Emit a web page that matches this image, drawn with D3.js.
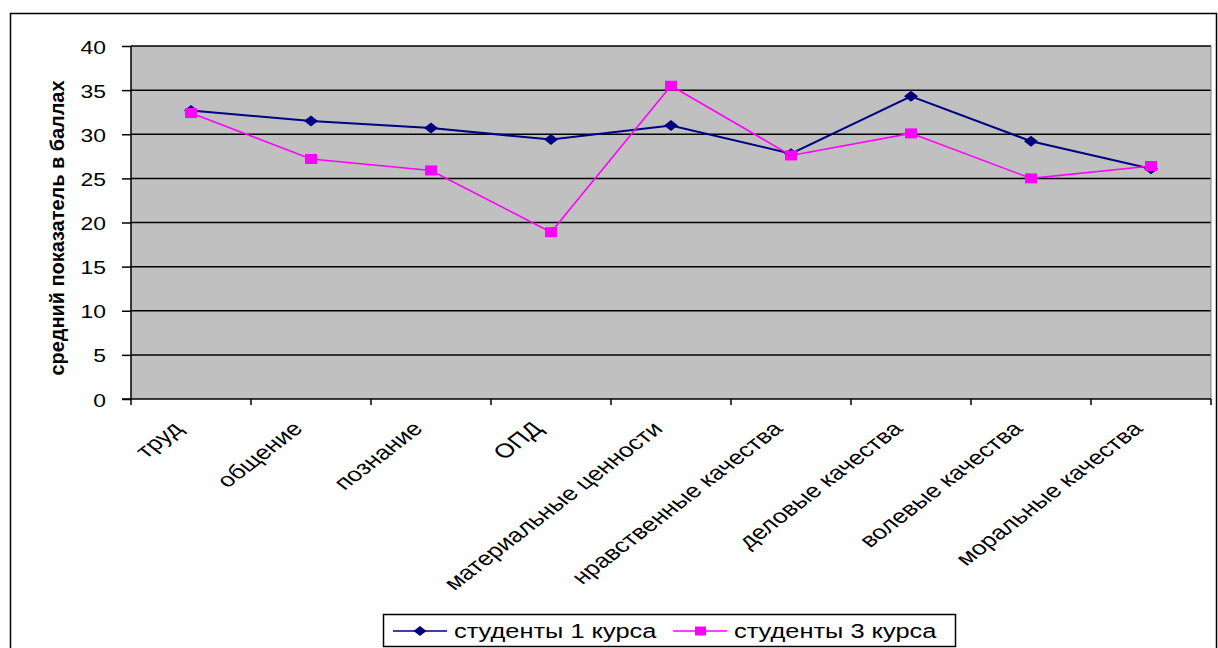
<!DOCTYPE html>
<html><head><meta charset="utf-8">
<script src="https://cdn.jsdelivr.net/npm/d3@7"></script>
<style>body{margin:0;background:#fff}svg{display:block}text{font-family:Arial,"Liberation Sans",sans-serif}</style>
</head><body><svg id="c" width="1218" height="648"></svg>
<script>
const categories = ["труд","общение","познание","ОПД","материальные ценности","нравственные качества","деловые качества","волевые качества","моральные качества"];
const series1 = [32.7, 31.5, 30.7, 29.4, 31.0, 27.8, 34.3, 29.2, 26.1];
const series2 = [32.4, 27.2, 25.9, 18.9, 35.5, 27.6, 30.1, 25.0, 26.4];
const seriesNames = ["студенты 1 курса", "студенты 3 курса"];
const yTicks = [0,5,10,15,20,25,30,35,40];
const yTitle = "средний показатель в баллах";

const S = 1.27; // horizontal stretch of the original picture
const SX = 1.3;
const svg = d3.select("#c");
const L = 131, R = 1211, T = 46, B = 399;
svg.append("rect").attr("x",10.5).attr("y",13.5).attr("width",1206).attr("height",660).attr("fill","#fff").attr("stroke","#000").attr("stroke-width",1.5);

const x = d3.scaleBand().domain(categories).range([L,R]);
const y = d3.scaleLinear().domain([0,40]).range([B,T]);

svg.append("rect").attr("x",L).attr("y",T).attr("width",R-L).attr("height",B-T).attr("fill","#C0C0C0");
svg.append("g").selectAll("line").data(yTicks.filter(d=>d>0)).join("line")
  .attr("x1",L).attr("x2",R).attr("y1",d=>y(d)).attr("y2",d=>y(d)).attr("stroke","#000").attr("stroke-width",1.5);
svg.append("line").attr("x1",R).attr("x2",R).attr("y1",T).attr("y2",B).attr("stroke","#808080").attr("stroke-width",1);

// y axis
const ya = svg.append("g").attr("transform",`translate(${L},0)`).call(d3.axisLeft(y).tickValues(yTicks).tickSize(9).tickFormat(""));
ya.select(".domain").attr("stroke","#000").attr("stroke-width",1.5).attr("d",`M0,${T}V${B}`);
ya.selectAll(".tick line").attr("stroke","#000").attr("stroke-width",1.5);
ya.selectAll(".tick").append("text").attr("transform",`translate(-25,7) scale(${S},1)`)
  .attr("x",0).attr("y",0).attr("dy",null).attr("text-anchor","end").attr("font-size",18).attr("fill","#000")
  .attr("font-family","Arial,'Liberation Sans',sans-serif").text(d=>d);

// x axis
const xa = svg.append("g").attr("transform",`translate(0,${B})`);
xa.append("line").attr("x1",L-9).attr("x2",R).attr("y1",0).attr("y2",0).attr("stroke","#000").attr("stroke-width",1.5);
const bounds = d3.range(categories.length+1).map(i=> i<categories.length ? x(categories[i]) : R);
xa.selectAll("line.t").data(bounds).join("line").attr("class","t")
  .attr("x1",d=>d).attr("x2",d=>d).attr("y1",0).attr("y2",6).attr("stroke","#000").attr("stroke-width",1.5);
xa.selectAll("text").data(categories).join("text")
  .attr("transform",d=>`translate(${x(d)+x.bandwidth()/2-7},${31}) scale(${SX},1) rotate(-45)`)
  .attr("text-anchor","end").attr("font-size",20).attr("fill","#000").text(d=>d);

// y title
svg.append("text").attr("transform",`translate(64,228) scale(${S},1) rotate(-90)`).attr("text-anchor","middle")
  .attr("font-size",16).attr("font-weight","bold").attr("textLength",295).attr("lengthAdjust","spacingAndGlyphs")
  .attr("fill","#000").text(yTitle);

const cx = d => x(d)+x.bandwidth()/2;
const line = d3.line().x((d,i)=>cx(categories[i])).y(d=>y(d));
const colors = ["#000080","#FF00FF"];
const widths = [2, 1.6];
[series1, series2].forEach((s,k)=>{
  svg.append("path").datum(s).attr("d",line).attr("fill","none").attr("stroke",colors[k]).attr("stroke-width",widths[k]);
});
const diamond = "M0,-5.5L7,0L0,5.5L-7,0Z";
svg.append("g").selectAll("path").data(series1).join("path")
  .attr("d",diamond).attr("transform",(d,i)=>`translate(${cx(categories[i])},${y(d)})`).attr("fill","#000080");
svg.append("g").selectAll("rect").data(series2).join("rect")
  .attr("x",(d,i)=>cx(categories[i])-6).attr("y",d=>y(d)-5).attr("width",12).attr("height",10).attr("fill","#FF00FF");

// legend
const lg = svg.append("g");
lg.append("rect").attr("x",383.5).attr("y",614.5).attr("width",572).attr("height",32).attr("fill","#fff").attr("stroke","#000").attr("stroke-width",1.5);
const items = [{x0:393,c:"#000080",sym:"d"},{x0:673,c:"#FF00FF",sym:"s"}];
items.forEach((it,k)=>{
  lg.append("line").attr("x1",it.x0).attr("x2",it.x0+54).attr("y1",631).attr("y2",631).attr("stroke",it.c).attr("stroke-width",1.5);
  if(it.sym==="d"){
    lg.append("path").attr("d","M0,-5L6.5,0L0,5L-6.5,0Z").attr("transform",`translate(${it.x0+27},631)`).attr("fill",it.c);
  } else {
    lg.append("rect").attr("x",it.x0+22).attr("y",626.5).attr("width",11).attr("height",9).attr("fill",it.c);
  }
  lg.append("text").attr("transform",`translate(${it.x0+61},637.5) scale(${S},1)`).attr("font-size",20).attr("fill","#000").text(seriesNames[k]);
});
</script></body></html>
